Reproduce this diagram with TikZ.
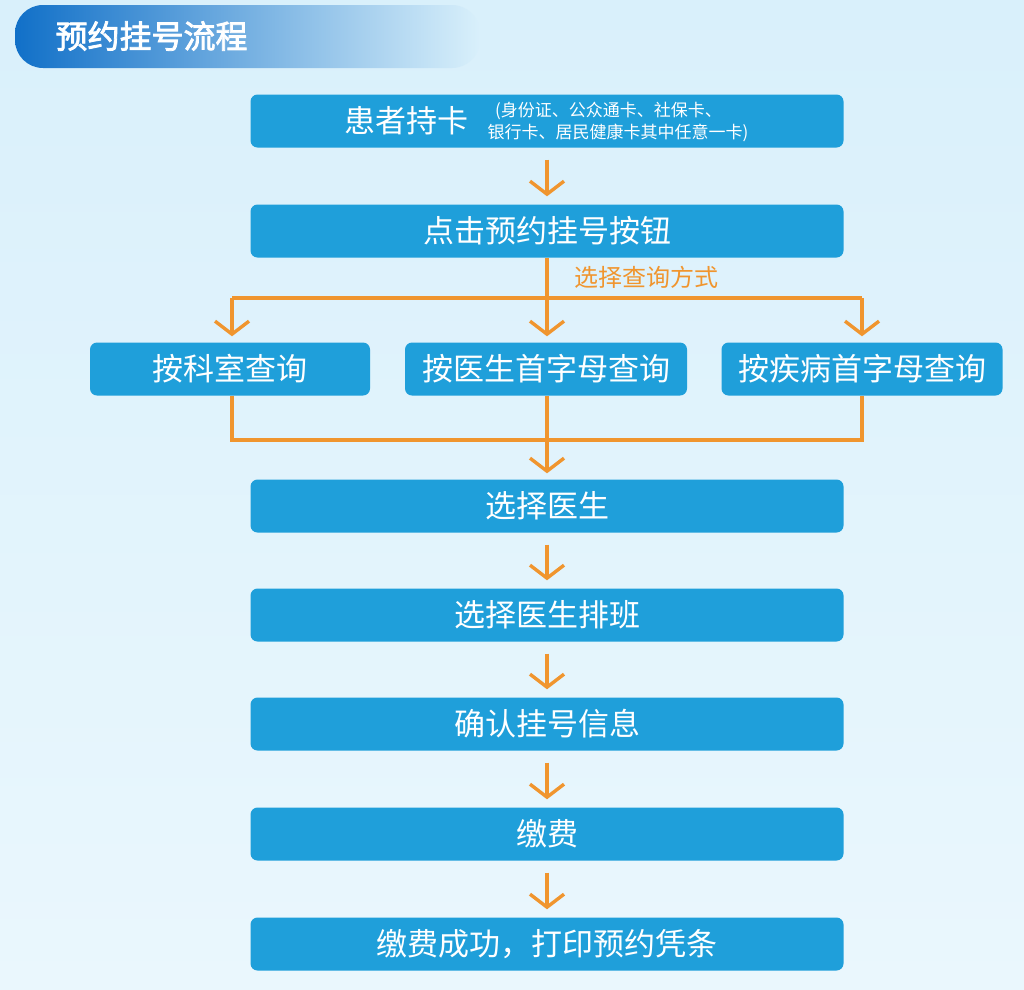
\documentclass[tikz,border=0pt]{standalone}
\usepackage{fontspec}
\setmainfont{Noto Sans CJK SC}
\newfontfamily\cjkb[FakeBold=2.5]{Noto Sans CJK SC}
\usetikzlibrary{arrows.meta}
\definecolor{bx}{HTML}{1F9FDA}
\definecolor{bd}{HTML}{1170C8}
\definecolor{org}{HTML}{F0952E}
\definecolor{bgt}{HTML}{D9F0FB}
\definecolor{bgb}{HTML}{EAF7FD}
\begin{document}
\begin{tikzpicture}[x=1pt,y=-1pt,
  box/.style={fill=bx,rounded corners=7pt,text=white,font=\fontsize{31}{32}\selectfont,inner sep=0pt},
  ln/.style={draw=org,line width=3.2pt},
  arr/.style={ln,-{Straight Barb[length=13pt,width=34pt,line width=3.4pt]}}]
\useasboundingbox (0,0) rectangle (1024,989);
\shade[top color=bgt,bottom color=bgb] (0,0) rectangle (1024,989);
\shade[left color=bd,right color=bgt,rounded corners=28pt] (15,5) rectangle (480,68);
\fill[bgt] (480,0) rectangle (500,70);
\node[text=white,font=\cjkb\fontsize{32}{32}\selectfont,anchor=west] (title) at (52,36) {预约挂号流程};
% boxes
\node[box,minimum width=593pt,minimum height=53pt] (b1) at (547,121) {};
\node[text=white,font=\fontsize{31}{32}\selectfont] (b1a) at (406,121) {患者持卡};
\node[text=white,font=\fontsize{17}{22}\selectfont,align=left,anchor=west] (b1b) at (484,122) {\ \ (身份证、公众通卡、社保卡、\\银行卡、居民健康卡其中任意一卡)};
\node[box,minimum width=593pt,minimum height=53pt] (b2) at (547,231) {点击预约挂号按钮};
\node[box,minimum width=280pt,minimum height=53pt] (c1) at (230,369) {按科室查询};
\node[box,minimum width=282pt,minimum height=53pt] (c2) at (546,369) {按医生首字母查询};
\node[box,minimum width=281pt,minimum height=53pt] (c3) at (862,369) {按疾病首字母查询};
\node[box,minimum width=593pt,minimum height=53pt] (d1) at (547,506) {选择医生};
\node[box,minimum width=593pt,minimum height=53pt] (d2) at (547,615) {选择医生排班};
\node[box,minimum width=593pt,minimum height=53pt] (d3) at (547,724) {确认挂号信息};
\node[box,minimum width=593pt,minimum height=53pt] (d4) at (547,834) {缴费};
\node[box,minimum width=593pt,minimum height=53pt] (d5) at (547,944) {缴费成功，打印预约凭条};
\node[text=org,font=\fontsize{24}{24}\selectfont] (lbl) at (646,277) {选择查询方式};
% connectors
\coordinate (s) at (547,298); \coordinate (sl) at (232,298); \coordinate (sr) at (862,298);
\coordinate (m) at (547,440); \coordinate (ml) at (232,440); \coordinate (mr) at (862,440);
\draw[arr] ([yshift=-12pt]b1.south) -- ([yshift=8pt]b2.north);
\draw[ln] (b2.south) -- (s);
\draw[ln] (sl) -- (sr);
\draw[arr] (sl) -- ([yshift=6pt]c1.north -| sl);
\draw[arr] (s) -- ([yshift=6pt]c2.north -| s);
\draw[arr] (sr) -- ([yshift=6pt]c3.north -| sr);
\draw[ln] (c1.south -| ml) -- (ml) -- (mr) -- (c3.south -| mr);
\draw[ln] (c2.south -| m) -- (m);
\draw[arr] (m) -- ([yshift=6pt]d1.north);
\foreach \a/\b in {d1/d2,d2/d3,d3/d4,d4/d5}
  \draw[arr] ([yshift=-12pt]\a.south) -- ([yshift=8pt]\b.north);
\end{tikzpicture}
\end{document}
